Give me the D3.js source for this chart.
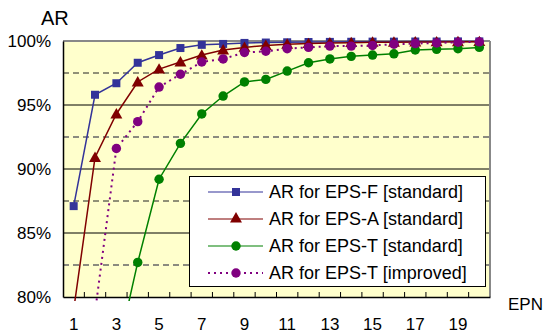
<!DOCTYPE html>
<meta charset="utf-8">
<head>
<style>
  body { margin: 0; background: #fff; }
  text { font-family: "Liberation Sans", Arial, sans-serif; fill: #000; }
</style>
</head>
<body>
<script src="https://cdnjs.cloudflare.com/ajax/libs/d3/7.8.5/d3.min.js"></script>
<script>

// EPN categories 1..20
const epn = d3.range(1, 21);
const xTickLabels = [1, 3, 5, 7, 9, 11, 13, 15, 17, 19];
const yTicks = [80, 85, 90, 95, 100];
const yDashed = [82.5, 87.5, 92.5, 97.5];

// AR values (%); null = not drawn
const epsF = [87.1, 95.8, 96.7, 98.3, 98.9, 99.45, 99.7, 99.77, 99.85, 99.88,
              99.9, 99.92, 99.93, 99.94, 99.95, 99.95, 99.96, 99.96, 99.97, 99.97];
const epsA = [79.0, 90.9, 94.3, 96.8, 97.8, 98.36, 98.9, 99.3, 99.5, 99.65,
              99.75, 99.8, 99.85, 99.87, 99.9, 99.9, 99.92, 99.93, 99.94, 99.95];
const epsT = [null, null, 75.3, 82.7, 89.2, 92.0, 94.3, 95.7, 96.8, 97.0,
              97.65, 98.3, 98.6, 98.8, 98.9, 99.0, 99.3, 99.35, 99.4, 99.5];
const epsTImproved = [null, 78.8, 91.6, 93.7, 96.4, 97.4, 98.36, 98.6, 99.1, 99.2,
                      99.4, 99.5, 99.6, 99.6, 99.65, 99.75, 99.8, 99.85, 99.9, 99.93];

const series = [
  {name: "AR for EPS-F [standard]", values: epsF, color: "#333399", marker: "square", dash: null},
  {name: "AR for EPS-A [standard]", values: epsA, color: "#800000", marker: "triangle", dash: null},
  {name: "AR for EPS-T [standard]", values: epsT, color: "#008000", marker: "circle", dash: null},
  {name: "AR for EPS-T [improved]", values: epsTImproved, color: "#800080", marker: "circle", dash: "2,4"}
];

const W = 543, H = 336;
const plot = {left: 63, right: 490, top: 41, bottom: 297};

const svg = d3.select("body").append("svg")
  .attr("width", W)
  .attr("height", H);

const x = d3.scaleBand().domain(epn).range([plot.left, plot.right]).padding(0);
const y = d3.scaleLinear().domain([80, 100]).range([plot.bottom, plot.top]);
const cx = d => x(d) + x.bandwidth() / 2;

// plot background
svg.append("rect")
  .attr("x", plot.left).attr("y", plot.top)
  .attr("width", plot.right - plot.left).attr("height", plot.bottom - plot.top)
  .attr("fill", "#ffffcc");

// gridlines
svg.append("g").selectAll("line")
  .data(yTicks.filter(d => d > 80 && d < 100))
  .join("line")
    .attr("x1", plot.left).attr("x2", plot.right)
    .attr("y1", d => y(d)).attr("y2", d => y(d))
    .attr("stroke", "#000").attr("stroke-width", 1);

svg.append("g").selectAll("line")
  .data(yDashed)
  .join("line")
    .attr("x1", plot.left).attr("x2", plot.right)
    .attr("y1", d => y(d)).attr("y2", d => y(d))
    .attr("stroke", (d, i) => i % 2 ? "#222" : "#666")
    .attr("stroke-width", (d, i) => i % 2 ? 1 : 1.5)
    .attr("stroke-dasharray", "6,4");

// frame
svg.append("line").attr("x1", plot.left).attr("x2", plot.right)
  .attr("y1", plot.top).attr("y2", plot.top)
  .attr("stroke", "#888").attr("stroke-width", 2);
svg.append("line").attr("x1", plot.right).attr("x2", plot.right)
  .attr("y1", plot.top).attr("y2", plot.bottom)
  .attr("stroke", "#888").attr("stroke-width", 2);

// y axis
const yAxis = svg.append("g")
  .attr("transform", `translate(${plot.left},0)`)
  .call(d3.axisLeft(y).tickValues(yTicks).tickSize(0).tickPadding(12).tickFormat(d => d + "%"));
yAxis.select(".domain").attr("stroke", "#000").attr("stroke-width", 1.5);
yAxis.selectAll("text").style("font-size", "17px");

// x axis
const xAxis = svg.append("g")
  .attr("transform", `translate(0,${plot.bottom})`)
  .call(d3.axisBottom(x).tickValues(xTickLabels).tickSize(0).tickPadding(21));
xAxis.select(".domain").attr("stroke", "#000").attr("stroke-width", 1.5);
xAxis.selectAll("text").style("font-size", "17px");

// inward ticks at category boundaries
svg.append("g").selectAll("line")
  .data(epn.slice(1))
  .join("line")
    .attr("x1", d => x(d)).attr("x2", d => x(d))
    .attr("y1", plot.bottom).attr("y2", plot.bottom - 5)
    .attr("stroke", "#000");

// clip lines to the plot (a little below like the original)
svg.append("clipPath").attr("id", "clip")
  .append("rect")
    .attr("x", plot.left).attr("y", plot.top - 10)
    .attr("width", plot.right - plot.left + 10)
    .attr("height", plot.bottom - plot.top + 14);

const line = d3.line()
  .defined(d => d.v != null)
  .x(d => cx(d.e))
  .y(d => y(d.v));

const sym = {
  square: d3.symbol(d3.symbolSquare, 64),
  triangle: d3.symbol(d3.symbolTriangle, 62),
  circle: d3.symbol(d3.symbolCircle, 70)
};

series.forEach(s => {
  const pts = epn.map((e, i) => ({e: e, v: s.values[i]}));
  svg.append("path")
    .datum(pts)
    .attr("clip-path", "url(#clip)")
    .attr("fill", "none")
    .attr("stroke", s.color)
    .attr("stroke-width", s.dash ? 2 : 1.5)
    .attr("stroke-dasharray", s.dash)
    .attr("d", line);

  svg.append("g").selectAll("path")
    .data(pts.filter(p => p.v != null && p.v >= 80))
    .join("path")
      .attr("transform", p => `translate(${cx(p.e)},${y(p.v) + (s.marker === "triangle" ? 1 : 0)})`)
      .attr("d", sym[s.marker])
      .attr("fill", s.color);
});

// legend
const legend = svg.append("g");
legend.append("rect")
  .attr("x", 189.5).attr("y", 176.5)
  .attr("width", 296).attr("height", 110)
  .attr("fill", "#fff").attr("stroke", "#000");

series.forEach((s, i) => {
  const ly = 192 + i * 27;
  legend.append("line")
    .attr("x1", 208).attr("x2", 263)
    .attr("y1", ly).attr("y2", ly)
    .attr("stroke", s.color)
    .attr("stroke-width", s.dash ? 2 : 1.2)
    .attr("stroke-dasharray", s.dash);
  legend.append("path")
    .attr("transform", `translate(236,${ly})`)
    .attr("d", sym[s.marker])
    .attr("fill", s.color);
  legend.append("text")
    .attr("x", 269).attr("y", ly + 6)
    .style("font-size", "18px")
    .text(s.name);
});

// axis titles
svg.append("text").attr("x", 41).attr("y", 25).style("font-size", "20px").text("AR");
svg.append("text").attr("x", 508).attr("y", 310).style("font-size", "17px").text("EPN");

</script>
</body>
